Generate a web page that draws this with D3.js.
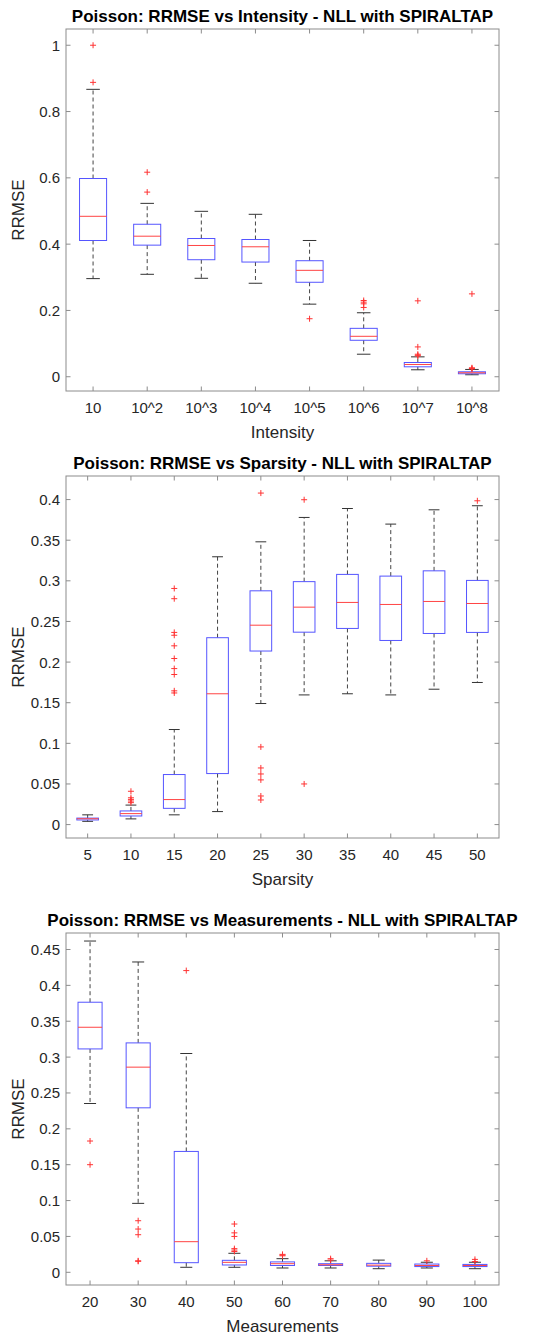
<!doctype html>
<html>
  <head>
    <meta charset="utf-8">
    <title>Poisson RRMSE boxplots</title>
    <script src="https://cdnjs.cloudflare.com/ajax/libs/d3/7.8.5/d3.min.js"></script>
    <style>
      body { margin: 0; background: #fff; }
      svg { display: block; font-family: "Liberation Sans", Arial, sans-serif; }
    </style>
  </head>
  <body>
    <div id="chart"></div>
    <script>
      // ---- data ----
      // panel 1: intensity
      const intensityCats = ['10', '10^2', '10^3', '10^4', '10^5', '10^6', '10^7', '10^8'];
      const intensityQ1 = [0.411, 0.397, 0.353, 0.346, 0.285, 0.110, 0.030, 0.009];
      const intensityMed = [0.484, 0.424, 0.396, 0.392, 0.321, 0.122, 0.037, 0.012];
      const intensityQ3 = [0.598, 0.460, 0.417, 0.414, 0.350, 0.146, 0.043, 0.015];
      const intensityLo = [0.296, 0.309, 0.297, 0.282, 0.219, 0.068, 0.021, 0.006];
      const intensityHi = [0.867, 0.523, 0.499, 0.490, 0.411, 0.193, 0.060, 0.022];
      const intensityOut = [[1.0, 0.888], [0.617, 0.557], [], [], [0.175],
        [0.230, 0.225, 0.220, 0.209], [0.229, 0.090, 0.068, 0.065, 0.063], [0.250, 0.027, 0.025, 0.024]];
      const intensityTicks = [0, 0.2, 0.4, 0.6, 0.8, 1];

      // panel 2: sparsity
      const sparsityCats = ['5', '10', '15', '20', '25', '30', '35', '40', '45', '50'];
      const sparsityQ1 = [0.0057, 0.0106, 0.020, 0.0628, 0.2136, 0.2368, 0.2414, 0.2266, 0.2352, 0.2365];
      const sparsityMed = [0.0072, 0.0135, 0.0308, 0.161, 0.2454, 0.2676, 0.2734, 0.2709, 0.2746, 0.2721];
      const sparsityQ3 = [0.008, 0.0168, 0.0616, 0.230, 0.2877, 0.299, 0.3079, 0.3058, 0.3123, 0.3005];
      const sparsityLo = [0.004, 0.007, 0.012, 0.016, 0.149, 0.1596, 0.161, 0.1596, 0.1666, 0.1749];
      const sparsityHi = [0.012, 0.024, 0.117, 0.3296, 0.348, 0.378, 0.389, 0.3698, 0.3874, 0.3924];
      const sparsityOut = [[], [0.041, 0.033, 0.031, 0.029, 0.027],
        [0.2906, 0.278, 0.2365, 0.233, 0.22, 0.2044, 0.192, 0.1847, 0.1646, 0.162], [],
        [0.408, 0.0956, 0.0697, 0.0623, 0.055, 0.0352, 0.0303], [0.3998, 0.05], [], [], [], [0.3985]];
      const sparsityTicks = [0, 0.05, 0.1, 0.15, 0.2, 0.25, 0.3, 0.35, 0.4];

      // panel 3: measurements
      const measCats = ['20', '30', '40', '50', '60', '70', '80', '90', '100'];
      const measQ1 = [0.3114, 0.2293, 0.0134, 0.0102, 0.0095, 0.0095, 0.0085, 0.008, 0.008];
      const measMed = [0.3416, 0.286, 0.0427, 0.0139, 0.012, 0.0105, 0.010, 0.0095, 0.0095];
      const measQ3 = [0.3765, 0.3198, 0.1685, 0.0167, 0.0145, 0.012, 0.0125, 0.0115, 0.011];
      const measLo = [0.2353, 0.0961, 0.007, 0.007, 0.006, 0.006, 0.005, 0.006, 0.005];
      const measHi = [0.4618, 0.4326, 0.305, 0.0265, 0.019, 0.016, 0.017, 0.014, 0.014];
      const measOut = [[0.183, 0.150], [0.0719, 0.0603, 0.0524, 0.016, 0.0153], [0.4206],
        [0.0673, 0.055, 0.050, 0.033, 0.031, 0.029], [0.025, 0.024, 0.023], [0.019, 0.017], [], [0.016], [0.018, 0.015]];
      const measTicks = [0, 0.05, 0.1, 0.15, 0.2, 0.25, 0.3, 0.35, 0.4, 0.45];

      const W = 556, H = 1337;
      const svg = d3.select('#chart').append('svg').attr('width', W).attr('height', H);

      const axisColor = '#262626';
      const frameColor = '#8c8c8c';

      function drawPanel(opt) {
        const left = 66, right = 499;
        const n = opt.cats.length;
        const x = d3.scaleLinear().domain([0.5, n + 0.5]).range([left, right]);
        const y = d3.scaleLinear().domain(opt.yDomain).range([opt.bottom, opt.top]);
        const g = svg.append('g');

        // ticks (inward on all four sides)
        const tl = 4.5;
        opt.cats.forEach((c, i) => {
          const xi = x(i + 1);
          g.append('line').attr('x1', xi).attr('x2', xi).attr('y1', opt.bottom).attr('y2', opt.bottom - tl)
            .attr('stroke', frameColor);
          g.append('line').attr('x1', xi).attr('x2', xi).attr('y1', opt.top).attr('y2', opt.top + tl)
            .attr('stroke', frameColor);
          g.append('text').attr('x', xi).attr('y', opt.bottom + 22).attr('text-anchor', 'middle')
            .attr('font-size', 15).attr('fill', axisColor).text(c);
        });
        opt.ticks.forEach(t => {
          const yt = y(t);
          g.append('line').attr('x1', left).attr('x2', left + tl).attr('y1', yt).attr('y2', yt)
            .attr('stroke', frameColor);
          g.append('line').attr('x1', right).attr('x2', right - tl).attr('y1', yt).attr('y2', yt)
            .attr('stroke', frameColor);
          g.append('text').attr('x', left - 6).attr('y', yt + 5.5).attr('text-anchor', 'end')
            .attr('font-size', 15).attr('fill', axisColor).text(String(+t.toFixed(2)));
        });

        // frame
        g.append('rect').attr('x', left).attr('y', opt.top).attr('width', right - left)
          .attr('height', opt.bottom - opt.top).attr('fill', 'none').attr('stroke', frameColor);

        // boxes
        const half = (x(1) - x(0)) * 0.25;
        const capHalf = (x(1) - x(0)) * 0.125;
        opt.cats.forEach((c, i) => {
          const xi = x(i + 1);
          // whiskers
          g.append('line').attr('x1', xi).attr('x2', xi).attr('y1', y(opt.q3[i])).attr('y2', y(opt.hi[i]))
            .attr('stroke', '#444').attr('stroke-dasharray', '4,3');
          g.append('line').attr('x1', xi).attr('x2', xi).attr('y1', y(opt.q1[i])).attr('y2', y(opt.lo[i]))
            .attr('stroke', '#444').attr('stroke-dasharray', '4,3');
          [opt.hi[i], opt.lo[i]].forEach(v => {
            g.append('line').attr('x1', xi - capHalf).attr('x2', xi + capHalf).attr('y1', y(v)).attr('y2', y(v))
              .attr('stroke', '#333');
          });
          // box
          g.append('rect').attr('x', xi - half).attr('y', y(opt.q3[i])).attr('width', 2 * half)
            .attr('height', Math.max(0.5, y(opt.q1[i]) - y(opt.q3[i])))
            .attr('fill', 'none').attr('stroke', '#5555ff');
          // median
          g.append('line').attr('x1', xi - half).attr('x2', xi + half).attr('y1', y(opt.med[i])).attr('y2', y(opt.med[i]))
            .attr('stroke', '#ff4444');
          // outliers
          opt.out[i].forEach(v => {
            const yv = y(v);
            g.append('path').attr('d', `M${xi - 3},${yv}H${xi + 3}M${xi},${yv - 3}V${yv + 3}`)
              .attr('stroke', '#ff3333').attr('fill', 'none');
          });
        });

        // title and labels
        g.append('text').attr('x', (left + right) / 2).attr('y', opt.top - 7).attr('text-anchor', 'middle')
          .attr('font-size', 17).attr('font-weight', 'bold').attr('fill', '#000').text(opt.title);
        g.append('text').attr('x', (left + right) / 2).attr('y', opt.bottom + 47).attr('text-anchor', 'middle')
          .attr('font-size', 17).attr('fill', axisColor).text(opt.xlabel);
        g.append('text').attr('transform', `translate(24,${(opt.top + opt.bottom) / 2}) rotate(-90)`)
          .attr('text-anchor', 'middle').attr('font-size', 17).attr('fill', axisColor).text('RRMSE');
      }

      drawPanel({
        title: 'Poisson: RRMSE vs Intensity - NLL with SPIRALTAP', xlabel: 'Intensity',
        cats: intensityCats, q1: intensityQ1, med: intensityMed, q3: intensityQ3,
        lo: intensityLo, hi: intensityHi, out: intensityOut, ticks: intensityTicks,
        yDomain: [-0.043, 1.049], top: 29, bottom: 391
      });
      drawPanel({
        title: 'Poisson: RRMSE vs Sparsity - NLL with SPIRALTAP', xlabel: 'Sparsity',
        cats: sparsityCats, q1: sparsityQ1, med: sparsityMed, q3: sparsityQ3,
        lo: sparsityLo, hi: sparsityHi, out: sparsityOut, ticks: sparsityTicks,
        yDomain: [-0.0165, 0.429], top: 476, bottom: 838
      });
      drawPanel({
        title: 'Poisson: RRMSE vs Measurements - NLL with SPIRALTAP', xlabel: 'Measurements',
        cats: measCats, q1: measQ1, med: measMed, q3: measQ3,
        lo: measLo, hi: measHi, out: measOut, ticks: measTicks,
        yDomain: [-0.0177, 0.473], top: 933, bottom: 1285
      });
    </script>
  </body>
</html>
